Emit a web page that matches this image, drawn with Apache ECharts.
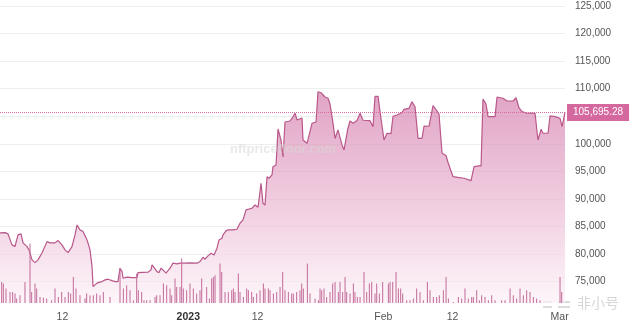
<!DOCTYPE html>
<html>
<head>
<meta charset="utf-8">
<script src="https://cdn.jsdelivr.net/npm/echarts@6/dist/echarts.min.js"></script>
<style>
html,body{margin:0;padding:0;background:#fff;}
#chart{width:639px;height:325px;}
</style>
</head>
<body>
<div id="chart"></div>
<script>
// Time is expressed in days since 2022-12-01 00:00
const priceDays = [1.08,1.88,2.35,2.99,3.46,3.94,4.42,4.74,5.37,5.69,6.17,6.64,7.12,7.75,8.55,9.03,9.82,10.30,10.93,11.41,11.89,12.52,13.00,13.32,13.79,14.27,14.91,15.38,15.70,15.86,16.50,16.97,17.29,17.77,18.24,18.88,19.36,19.83,20.15,20.47,20.63,21.26,22.06,22.85,23.01,24.60,25.08,25.24,25.55,26.03,26.35,26.66,26.98,27.46,28.10,28.57,29.21,29.68,30.48,31.27,32.39,32.86,33.34,33.66,34.13,34.61,35.09,35.56,35.88,36.36,36.52,36.99,37.31,38.11,38.74,39.22,39.70,40.17,40.33,41.13,41.60,42.08,42.56,42.87,43.19,43.51,43.83,44.30,44.46,44.94,45.26,45.73,46.05,46.37,47.16,47.48,47.96,48.28,49.07,49.23,49.87,50.66,51.30,51.61,52.09,52.73,53.20,53.52,54.00,54.32,54.79,55.43,55.75,56.38,56.70,57.18,57.81,58.29,58.77,59.88,60.35,60.67,61.15,61.63,62.10,62.58,63.21,63.53,64.17,64.96,65.28,66.07,66.55,67.03,67.51,68.14,68.46,69.25,69.89,70.53,70.84,71.32,71.95,72.27,73.07,73.86,74.81,75.93,76.41,77.20,77.52,77.83,78.31,78.63,79.74,80.06,81.01,81.65,82.60,83.08,83.56,84.03,84.83,85.62,86.10,86.42,86.57,87.05,87.37,88.16,88.48,89.28,90.07,90.39,90.86];
const prices = [83820,83880,83640,81650,81340,83460,83640,82010,81340,80740,78920,78430,78920,80190,82240,82010,82010,82430,81650,80740,80250,81340,83460,85270,84370,84060,82550,80740,77710,74080,74700,74880,74990,75300,75420,75170,74990,74990,77420,76800,75600,75790,75710,75710,76620,76690,77110,78020,78020,76800,76620,77420,77110,76510,77420,78330,78200,78330,78330,78380,78330,78620,79410,79050,79650,80140,79830,81050,82550,82860,83460,84190,84370,84370,84490,85580,86180,87990,88300,88300,88900,88480,92840,89210,88900,94030,93740,94340,95850,96160,102690,100690,97610,103960,104140,104630,105540,104320,104680,100690,100090,103720,103960,109450,109270,108490,108260,107220,103720,100960,102510,99790,98880,102870,104140,103720,104230,105540,104270,104190,103100,108620,108620,104500,100690,101910,101840,104990,105230,105680,106260,106440,107640,106730,101000,101000,103230,103180,106950,105950,105410,98280,97880,96610,94030,93890,93740,93310,95850,95980,95980,108130,107220,104920,104920,108490,108260,107770,107770,108350,106500,105830,105540,105590,105540,102140,100690,102630,101910,101910,105050,104920,104630,103100,105695.28];

const volumeDays = [1.35,1.61,2.03,2.67,3.09,3.46,3.73,4.26,5.05,5.85,6.11,6.64,6.91,7.44,7.97,8.50,9.29,9.82,10.35,10.88,11.41,11.94,12.31,12.73,13.16,13.79,14.59,14.85,15.38,15.91,16.44,16.97,17.50,18.56,20.15,20.68,21.21,21.74,22.27,22.80,23.06,23.59,23.96,24.39,24.92,25.71,25.98,26.51,27.04,27.57,28.10,28.36,28.89,29.16,29.68,29.95,30.21,30.74,31.27,31.80,32.33,32.86,33.13,33.92,34.35,34.72,34.98,35.25,36.04,36.31,36.84,37.36,37.90,38.16,38.42,38.95,39.22,39.75,40.28,40.54,41.07,41.34,41.87,42.40,42.93,43.19,43.72,43.99,44.52,45.05,45.58,46.00,46.37,46.90,47.43,47.69,48.22,48.75,49.02,49.28,49.92,50.34,51.14,51.67,51.93,52.20,52.57,52.99,53.52,53.94,54.32,54.84,55.11,55.53,55.91,56.17,56.70,57.23,57.49,57.86,58.29,58.92,59.35,59.77,60.14,60.67,60.94,61.36,61.89,62.79,63.06,63.48,64.01,64.38,64.75,65.07,65.71,66.23,66.76,67.29,67.82,68.35,68.99,69.41,69.94,70.47,70.89,71.53,71.96,72.33,73.12,73.91,74.44,74.97,75.50,76.03,76.30,76.83,77.25,77.62,78.15,78.68,79.21,79.74,80.80,81.33,82.13,82.65,83.18,83.71,84.24,84.77,85.30,85.83,86.36,86.89,90.07,90.34];
const volumes = [210,194,144,110,110,94,44,77,210,594,110,194,144,60,53,44,27,144,60,110,60,110,94,260,144,77,44,94,77,77,94,77,110,60,344,144,177,127,27,294,127,110,27,27,27,60,77,77,194,177,144,77,244,160,160,444,144,127,194,144,94,127,244,160,44,244,260,277,394,310,110,110,127,144,110,294,110,60,144,127,110,60,94,127,194,144,144,127,94,110,160,310,127,110,94,94,110,127,194,144,394,94,44,27,144,127,144,60,110,194,210,110,210,110,260,110,94,194,110,60,60,310,110,194,210,94,194,94,210,194,210,210,310,144,144,94,27,27,44,144,110,27,210,127,60,60,77,127,260,44,10,60,44,144,44,60,60,127,27,77,60,27,77,27,27,27,144,77,44,144,77,127,110,60,44,27,260,110];

const yTicks = [75000,80000,85000,90000,95000,100000,105000,110000,115000,120000,125000];
const xTickDays = [11,31,42,62,73,90];
const xTickLabels = ['12','2023','12','Feb','12','Mar'];
const lastPrice = 105695.28;
const lastPriceLabel = '105,695.28';

const chart = echarts.init(document.getElementById('chart'), null, {renderer:'canvas'});
const FONT = 'Liberation Sans, Arial, sans-serif';

const option = {
  animation: false,
  grid: {left: 0, right: 74, top: 0, bottom: 22},
  xAxis: {
    type: 'value', min: 1.08, max: 90.86,
    axisLine: {show: false}, axisTick: {show: false, customValues: xTickDays}, splitLine: {show: false},
    axisLabel: {
      customValues: xTickDays,
      margin: 9, color: '#555', fontSize: 10.5, fontFamily: FONT,
      formatter: function (v) {
        let i = xTickDays.indexOf(v);
        if (i < 0) { return ''; }
        const t = xTickLabels[i];
        return t === '2023' ? '{b|' + t + '}' : t;
      },
      rich: {b: {fontWeight: 'bold', color: '#333', fontSize: 10.5, fontFamily: FONT}}
    }
  },
  yAxis: [{
    type: 'value', position: 'right', min: 71100, max: 126100,
    axisLine: {show: false},
    axisTick: {show: false, customValues: yTicks},
    axisLabel: {
      customValues: yTicks, margin: 10, color: '#555', fontSize: 10, fontFamily: FONT,
      formatter: function (v) { return v.toLocaleString('en-US'); }
    },
    splitLine: {show: true, lineStyle: {color: '#eeeeee', width: 1}}
  }, {
    type: 'value', min: 0, max: 3030, show: false, splitLine: {show: false}
  }],
  series: [{
    type: 'line',
    data: priceDays.map(function (d, i) { return [d, prices[i]]; }),
    symbol: 'none', showSymbol: false,
    lineStyle: {color: '#b9578a', width: 1.2},
    areaStyle: {
      origin: 'start',
      color: new echarts.graphic.LinearGradient(0, 0, 0, 1, [
        {offset: 0, color: '#d37dab'},
        {offset: 0.5, color: '#e8b3cf'},
        {offset: 1, color: '#fcf1f7'}
      ])
    },
    z: 2,
    markLine: {
      silent: true, symbol: ['none', 'none'],
      lineStyle: {type: 'dotted', color: '#d46f9f', width: 1},
      label: {
        position: 'end', distance: 2, formatter: lastPriceLabel,
        color: '#fff', backgroundColor: '#d5689f', padding: [4, 6, 3, 6],
        fontSize: 10, fontFamily: FONT
      },
      data: [{yAxis: lastPrice}]
    }
  }, {
    type: 'bar', yAxisIndex: 1,
    data: volumeDays.map(function (d, i) { return [d, volumes[i]]; }),
    barWidth: 1, barMinWidth: 1,
    itemStyle: {color: '#c26a98'},
    z: 3
  }],
  graphic: [{
    type: 'text', left: 230, top: 143, z: 100, silent: true,
    style: {text: 'nftpricefloor.com', font: 'bold 13px ' + FONT, fill: 'rgba(215,215,215,0.55)'}
  }, {
    type: 'group', left: 543, top: 296, z: 100, silent: true,
    children: [
      {type: 'rect', shape: {x: 0, y: 3, width: 9, height: 2}, style: {fill: '#dcdcdc'}},
      {type: 'rect', shape: {x: 0, y: 8, width: 9, height: 2}, style: {fill: '#dcdcdc'}},
      {type: 'rect', shape: {x: 15, y: 3, width: 12, height: 2}, style: {fill: '#dcdcdc'}},
      {type: 'rect', shape: {x: 15, y: 8, width: 12, height: 2}, style: {fill: '#dcdcdc'}},
      {type: 'text', x: 34, y: -2, style: {text: '非小号', font: '14px "Noto Sans CJK SC", sans-serif', fill: '#d6d6d6'}}
    ]
  }]
};
chart.setOption(option);
</script>
</body>
</html>
